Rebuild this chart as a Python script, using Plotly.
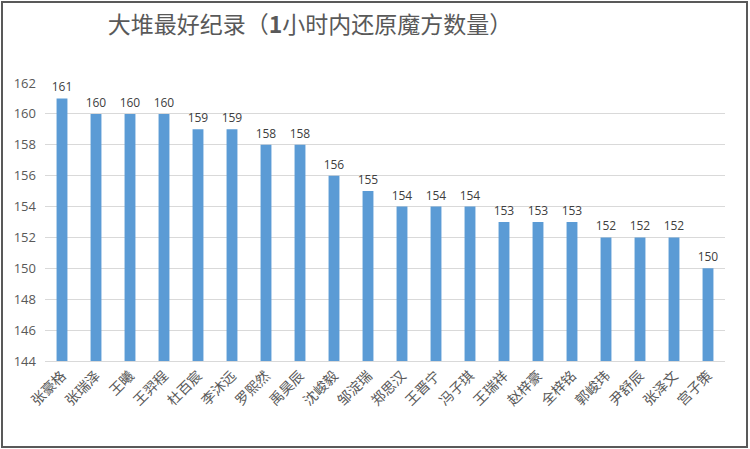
import plotly.graph_objects as go

names = ["张豪格", "张瑞泽", "王曦", "王羿程", "杜百宸", "李沐远", "罗熙然", "禹昊辰",
         "沈峻毅", "邹淀瑞", "郑思汉", "王晋宁", "冯子琪", "王瑞祥", "赵梓豪", "全梓铭",
         "郭峻玮", "尹舒辰", "张泽文", "宫子策"]
scores = [161, 160, 160, 160, 159, 159, 158, 158, 156, 155,
          154, 154, 154, 153, 153, 153, 152, 152, 152, 150]
y_ticks = [144, 146, 148, 150, 152, 154, 156, 158, 160, 162]

W, H = 750, 449
ml, mr, mt, mb = 45, 25, 83, 88
pw = W - ml - mr
ph = H - mt - mb

fig = go.Figure()
fig.add_trace(go.Bar(
    x=names,
    y=scores,
    marker=dict(color="#5b9bd5", line=dict(width=0)),
    text=scores,
    textposition="outside",
    constraintext="none",
    cliponaxis=False,
    textfont=dict(family="Open Sans, sans-serif", size=12, color="#404040"),
))

# outer frame
fig.add_shape(type="rect", xref="paper", yref="paper",
              x0=(2 - ml) / pw, x1=(W - 3 - ml) / pw,
              y0=(2 - mb) / ph, y1=(H - 2 - mb) / ph,
              line=dict(color="#595959", width=2), fillcolor="rgba(0,0,0,0)")

fig.update_layout(
    width=W, height=H,
    margin=dict(l=ml, r=mr, t=mt, b=mb),
    paper_bgcolor="white",
    plot_bgcolor="white",
    bargap=0.68,
    showlegend=False,
    title=dict(text="大堆最好纪录（<b>1</b>小时内还原魔方数量）",
               x=310 / W, xanchor="center", y=1 - 25 / H, yanchor="middle",
               font=dict(family="Noto Sans CJK SC", size=23, color="#595959")),
    xaxis=dict(tickangle=-45, showgrid=False, showline=True, linecolor="#d9d9d9",
               ticks="", tickfont=dict(family="Noto Sans CJK SC", size=14, color="#595959")),
    yaxis=dict(range=[144, 162], tickvals=y_ticks,
               showgrid=True, gridcolor="#d9d9d9", gridwidth=1,
               zeroline=False, ticks="", ticklabelstandoff=8,
               tickfont=dict(family="Open Sans, sans-serif", size=13, color="#595959")),
)

fig.write_html("out.html", config={"displayModeBar": False},
               post_script="document.body.style.margin='0';")
